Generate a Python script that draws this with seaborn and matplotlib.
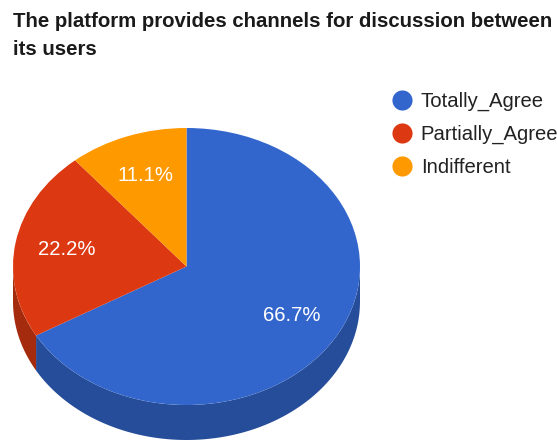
import numpy as np
import matplotlib
matplotlib.use("Agg")
import matplotlib.pyplot as plt
from matplotlib.lines import Line2D
import seaborn as sns

# Survey responses
categories = ["Totally_Agree", "Partially_Agree", "Indifferent"]
shares = [66.7, 22.2, 11.1]
title = "The platform provides channels for discussion between\nits users"

top_colors = sns.color_palette(["#3366CC", "#DC3912", "#FF9900"])
side_colors = sns.color_palette(["#264D99", "#A52B0E", "#BF7300"])

sns.set_theme(style="white")
plt.rcParams["font.family"] = ["Liberation Sans", "DejaVu Sans"]

W, H = 557, 443
fig = plt.figure(figsize=(W / 100, H / 100), dpi=100)
ax = fig.add_axes([0, 0, 1, 1])

# The disc is a unit circle stretched into an ellipse by the axis limits
cx, cy, rx, ry = 186.5, 266.5, 173.5, 138.5
depth = 35 / ry
ax.set_xlim(-cx / rx, (W - cx) / rx)
ax.set_ylim(-(H - cy) / ry, cy / ry)

# Extruded rim: only the front half of the disc shows a side wall
cumulative = np.cumsum([0] + shares) / sum(shares) * 360
for start, end, color in zip(cumulative[:-1], cumulative[1:], side_colors):
    lo, hi = max(start, 90), min(end, 270)
    if lo >= hi:
        continue
    t = np.radians(np.linspace(lo, hi, 120))
    x, y = np.sin(t), np.cos(t)
    ax.fill(np.r_[x, x[::-1]], np.r_[y, y[::-1] - depth], color=color, lw=0)

wedges, _, pct_texts = ax.pie(
    shares,
    colors=top_colors,
    startangle=90,
    counterclock=False,
    autopct="%.1f%%",
    pctdistance=0.7,
    textprops=dict(color="white", fontsize=14.6),
    wedgeprops=dict(linewidth=0, edgecolor="none"),
    frame=True,
)
ax.set_aspect("auto")
ax.set_xlim(-cx / rx, (W - cx) / rx)
ax.set_ylim(-(H - cy) / ry, cy / ry)
ax.set_axis_off()

fig.text(13 / W, 1 - 12 / H, title, ha="left", va="top", fontsize=14.7,
         fontweight="bold", color="#1a1a1a", linespacing=1.62)

handles = [
    Line2D([], [], linestyle="none", marker="o", markersize=14.5,
           markerfacecolor=c, markeredgecolor="none")
    for c in top_colors
]
ax.legend(
    handles, categories,
    loc="upper left",
    bbox_to_anchor=(392 / W, 1 - 92 / H),
    bbox_transform=fig.transFigure,
    frameon=False,
    fontsize=14.6,
    labelcolor="#222222",
    labelspacing=0.69,
    handlelength=1.0,
    handletextpad=0.42,
    borderpad=0,
    borderaxespad=0,
)

fig.savefig("out.png", dpi=100)
